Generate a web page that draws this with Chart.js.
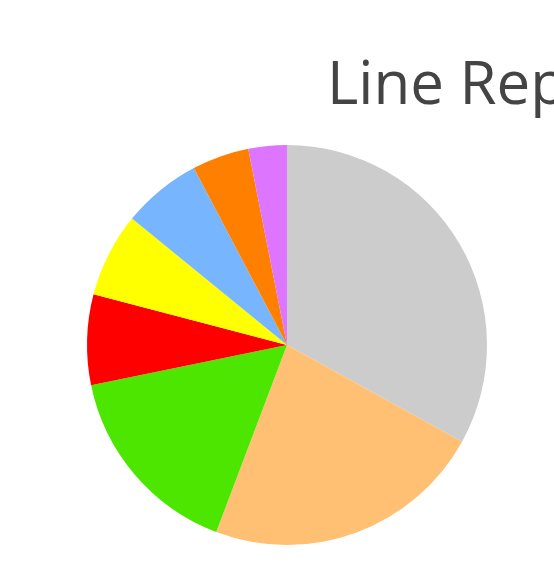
<!DOCTYPE html>
<html>
<head>
<meta charset="utf-8">
<script src="https://cdn.jsdelivr.net/npm/chart.js@4/dist/chart.umd.min.js"></script>
<style>
html,body{margin:0;padding:0;background:#fff;overflow:hidden;}
canvas{display:block;}
</style>
</head>
<body>
<canvas id="c" width="554" height="588"></canvas>
<script>
const titleText = "Line Report";
const categories = ["A", "B", "C", "D", "E", "F", "G", "H"];
const values = [33.0, 22.7, 16.0, 7.3, 6.8, 6.4, 4.6, 3.1];
const colors = ["#CCCCCC", "#FFC073", "#4CE600", "#FF0000", "#FFFF00", "#77B5FE", "#FF8000", "#DD75FF"];

const titlePlugin = {
  id: 'clippedTitle',
  afterDraw(chart) {
    const ctx = chart.ctx;
    ctx.save();
    ctx.fillStyle = '#444444';
    ctx.font = '60px "Open Sans", "Noto Sans", sans-serif';
    ctx.textBaseline = 'alphabetic';
    ctx.textAlign = 'left';
    ctx.fillText(titleText, 327, 104);
    ctx.restore();
  }
};

new Chart(document.getElementById('c'), {
  type: 'pie',
  data: {
    labels: categories,
    datasets: [{
      data: values,
      backgroundColor: colors,
      borderWidth: 0
    }]
  },
  options: {
    responsive: false,
    animation: false,
    layout: { padding: { left: 87, right: 67, top: 145, bottom: 43 } },
    plugins: {
      legend: { display: false },
      title: { display: false },
      tooltip: { enabled: false }
    }
  },
  plugins: [titlePlugin]
});
</script>
</body>
</html>
